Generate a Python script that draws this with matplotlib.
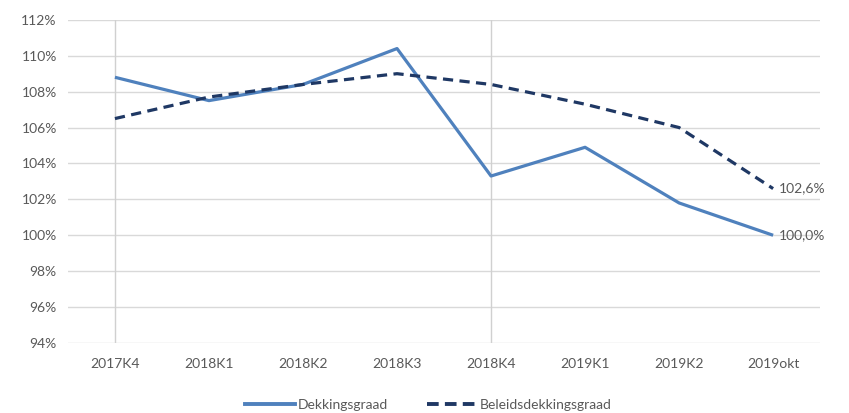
import matplotlib
matplotlib.use("Agg")
import matplotlib.pyplot as plt
from matplotlib.ticker import FuncFormatter
from matplotlib.lines import Line2D

categories = ["2017K4", "2018K1", "2018K2", "2018K3", "2018K4", "2019K1", "2019K2", "2019okt"]
dekkingsgraad = [108.8, 107.5, 108.4, 110.4, 103.3, 104.9, 101.8, 100.0]
beleidsdekkingsgraad = [106.5, 107.7, 108.4, 109.0, 108.4, 107.3, 106.0, 102.6]
yticks = [94, 96, 98, 100, 102, 104, 106, 108, 110, 112]

plt.rcParams['font.family'] = ['Lato', 'DejaVu Sans']
txt = '#595959'
c1 = '#4f81bd'
c2 = '#1f3864'
fs = 10

fig = plt.figure(figsize=(8.49, 4.13), dpi=100)
ax = fig.add_axes([0.080, 0.1695, 0.886, 0.7825])
x = list(range(len(categories)))

for v in yticks:
    ax.axhline(v, color='#d9d9d9', lw=1.0, zorder=0)
for xi in (0, 4):
    ax.axvline(xi, color='#d0d0d0', lw=1.0, zorder=0)

ax.plot(x, dekkingsgraad, color=c1, lw=2.3, solid_capstyle='butt', zorder=3)
ax.plot(x, beleidsdekkingsgraad, color=c2, lw=2.3, ls=(0, (3.2, 2.0)), dash_capstyle='butt', zorder=3)

ax.set_xlim(-0.5, len(categories) - 0.5)
ax.set_ylim(94, 112)
ax.set_yticks(yticks)
ax.yaxis.set_major_formatter(FuncFormatter(lambda v, p: f"{v:.0f}%"))
ax.set_xticks(x)
ax.set_xticklabels(categories)
ax.tick_params(axis='both', length=0, colors=txt, labelsize=fs)
ax.tick_params(axis='x', pad=11)
ax.tick_params(axis='y', pad=8)
for s in ax.spines.values():
    s.set_visible(False)

ax.annotate(f"{beleidsdekkingsgraad[-1]:.1f}%".replace('.', ','), (x[-1], beleidsdekkingsgraad[-1]),
            xytext=(4, 0), textcoords='offset points', va='center', ha='left', color=txt, fontsize=fs)
ax.annotate(f"{dekkingsgraad[-1]:.1f}%".replace('.', ','), (x[-1], dekkingsgraad[-1]),
            xytext=(4, 0), textcoords='offset points', va='center', ha='left', color=txt, fontsize=fs)

handles = [Line2D([], [], color=c1, lw=2.8),
           Line2D([], [], color=c2, lw=2.8, ls=(0, (3.0, 1.6)))]
fig.legend(handles, ["Dekkingsgraad", "Beleidsdekkingsgraad"], loc='center',
           bbox_to_anchor=(0.505, 0.02), ncol=2, frameon=False, fontsize=fs,
           labelcolor=txt, handlelength=3.6, columnspacing=2.8, handletextpad=0.2)

fig.savefig("out.png", dpi=100)
